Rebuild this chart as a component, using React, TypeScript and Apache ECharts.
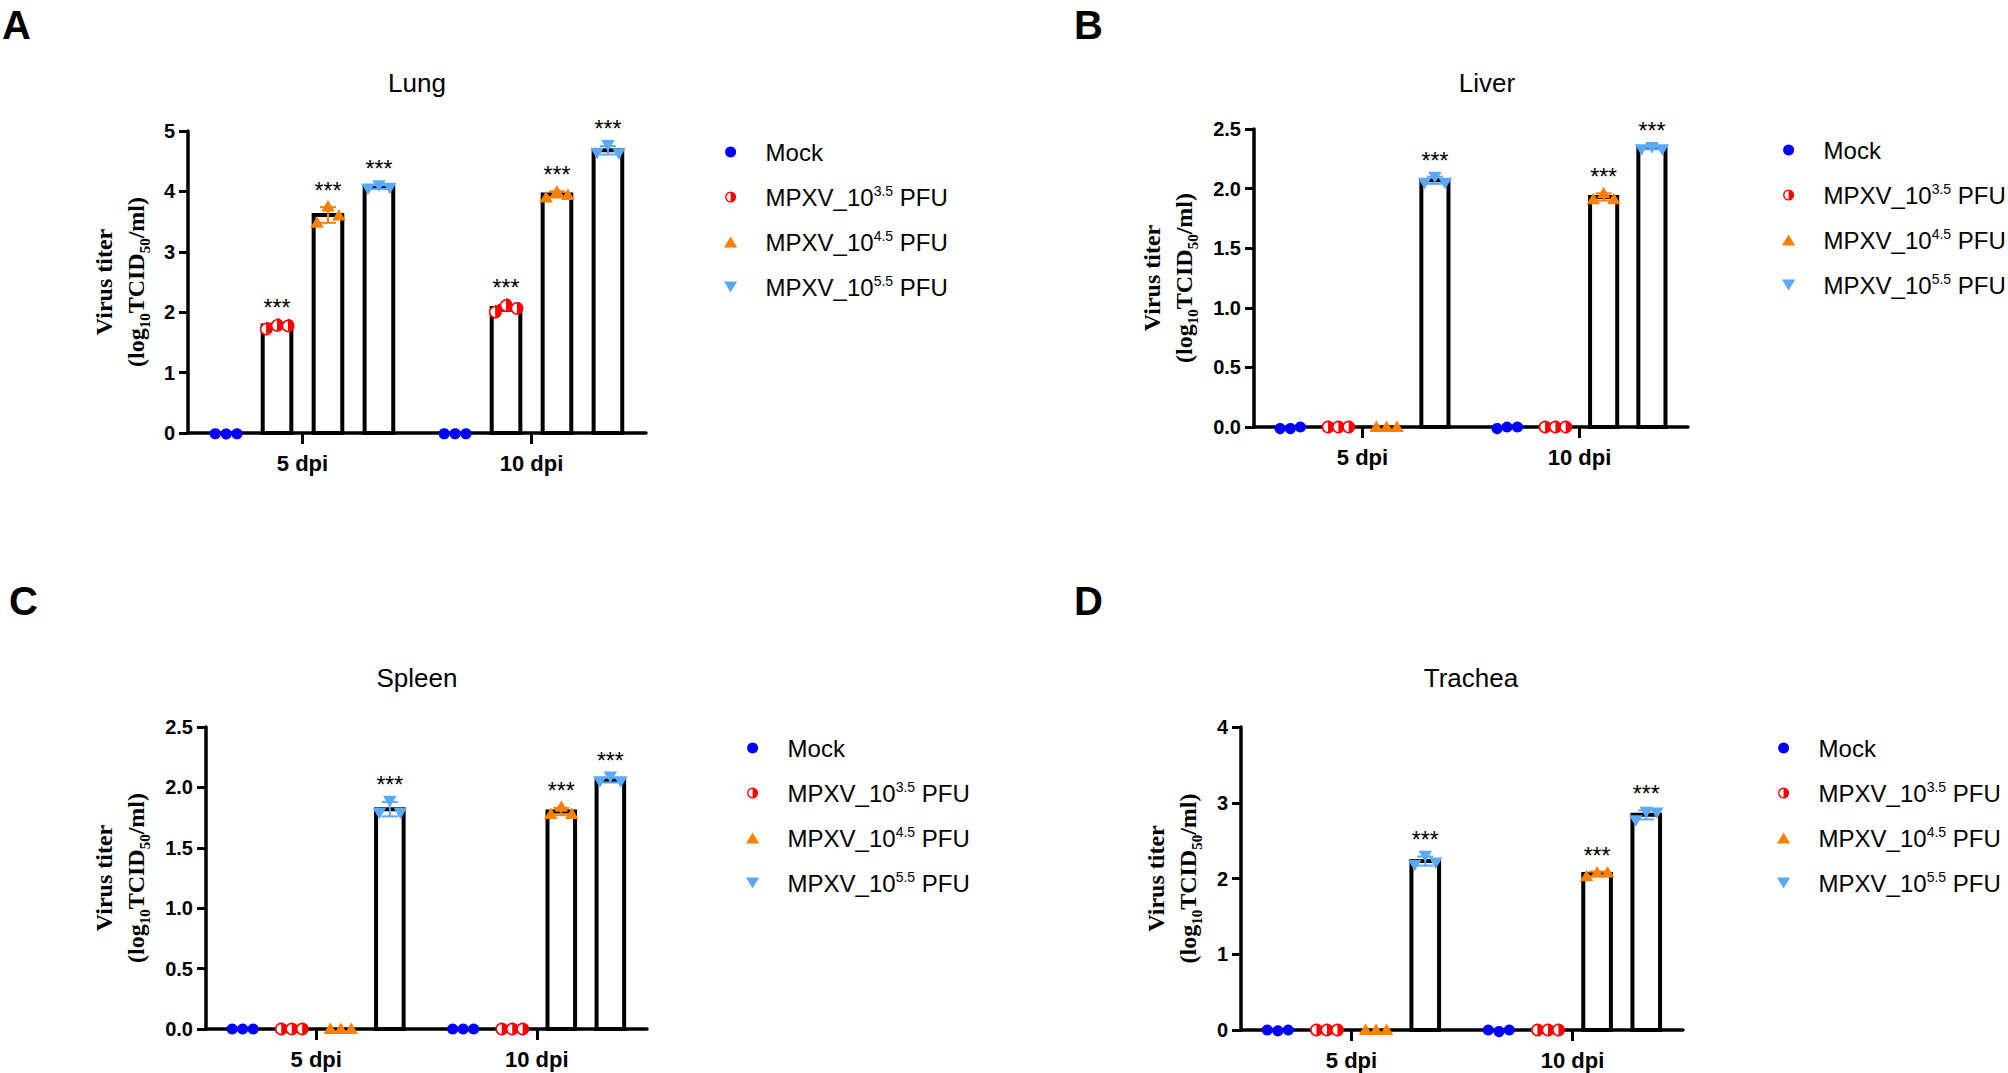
import React, { useEffect, useRef } from 'react';
import * as echarts from 'echarts';

// ---------------- data ----------------
const categories = ['5 dpi', '10 dpi'];
const groupNames = ['Mock', 'MPXV_10^3.5 PFU', 'MPXV_10^4.5 PFU', 'MPXV_10^5.5 PFU'];
const groupLabels = ['Mock', 'MPXV_10{sup|3.5} PFU', 'MPXV_10{sup|4.5} PFU', 'MPXV_10{sup|5.5} PFU'];
const groupColors = ['#0000ff', '#ff0000', '#ff7f00', '#5aa9f7'];

const panelLetters = ['A', 'B', 'C', 'D'];
const panelTitles = ['Lung', 'Liver', 'Spleen', 'Trachea'];
const yMax = [5, 2.5, 2.5, 4];
const yInterval = [1, 0.5, 0.5, 1];
const yDecimals = [0, 1, 1, 0];

// replicate values: [group][category][replicate]
const lungPoints = [
  [[0, 0, 0], [0, 0, 0]],
  [[1.74, 1.8, 1.79], [2.02, 2.13, 2.07]],
  [[3.48, 3.75, 3.6], [3.9, 4.0, 3.94]],
  [[4.05, 4.1, 4.06], [4.64, 4.77, 4.63]],
];
const lungMeans = [[0, 0], [1.78, 2.07], [3.61, 3.95], [4.07, 4.68]];
const lungSD = [[0, 0], [0.03, 0.05], [0.13, 0.05], [0.03, 0.07]];
const lungSig = [['', ''], ['***', '***'], ['***', '***'], ['***', '***']];

const liverPoints = [
  [[0, 0, 0], [0, 0, 0]],
  [[0, 0, 0], [0, 0, 0]],
  [[0, 0, 0], [1.91, 1.96, 1.91]],
  [[2.05, 2.1, 2.05], [2.33, 2.35, 2.33]],
];
const liverMeans = [[0, 0], [0, 0], [0, 1.93], [2.07, 2.34]];
const liverSD = [[0, 0], [0, 0], [0, 0.03], [0.03, 0.01]];
const liverSig = [['', ''], ['', ''], ['', '***'], ['***', '***']];

const spleenPoints = [
  [[0, 0, 0], [0, 0, 0]],
  [[0, 0, 0], [0, 0, 0]],
  [[0, 0, 0], [1.78, 1.84, 1.78]],
  [[1.79, 1.89, 1.79], [2.05, 2.09, 2.05]],
];
const spleenMeans = [[0, 0], [0, 0], [0, 1.8], [1.82, 2.06]];
const spleenSD = [[0, 0], [0, 0], [0, 0.03], [0.06, 0.02]];
const spleenSig = [['', ''], ['', ''], ['', '***'], ['***', '***']];

const tracheaPoints = [
  [[0, 0, 0], [0, 0, 0]],
  [[0, 0, 0], [0, 0, 0]],
  [[0, 0, 0], [2.03, 2.08, 2.08]],
  [[2.18, 2.3, 2.21], [2.77, 2.88, 2.87]],
];
const tracheaMeans = [[0, 0], [0, 0], [0, 2.06], [2.23, 2.84]];
const tracheaSD = [[0, 0], [0, 0], [0, 0.03], [0.06, 0.06]];
const tracheaSig = [['', ''], ['', ''], ['', '***'], ['***', '***']];

const panelPoints = [lungPoints, liverPoints, spleenPoints, tracheaPoints];
const panelMeans = [lungMeans, liverMeans, spleenMeans, tracheaMeans];
const panelSD = [lungSD, liverSD, spleenSD, tracheaSD];
const panelSig = [lungSig, liverSig, spleenSig, tracheaSig];

// ---------------- layout / style ----------------
const SANS = 'Arial, "Liberation Sans", Helvetica, sans-serif';
const SERIF = '"Times New Roman", "Liberation Serif", serif';
const grids = [
  { left: 188, top: 131, width: 458, height: 302 },
  { left: 1254, top: 129, width: 434, height: 298 },
  { left: 206, top: 727, width: 441, height: 302 },
  { left: 1241, top: 727, width: 442, height: 303 },
];
const nameGaps = [36, 54, 54, 37];
const legendPos = [
  { left: 724, top: 139 },
  { left: 1782, top: 137 },
  { left: 746, top: 735 },
  { left: 1777, top: 735 },
];
const letterPos = [[2, 25], [1074, 25], [9, 601], [1074, 601]];
const titlePos = [[417, 83], [1487, 83], [417, 678], [1471, 678]];
const SLOT = 0.2225;
const BARW = 0.125;
const PT = 0.0475;

const legendIcons = [
  'circle',
  'path://M0,-10A10,10,0,1,1,0,10A10,10,0,1,1,0,-10ZM0,-7.5A7.5,7.5,0,0,0,0,7.5Z',
  'path://M6,0L12,10L0,10Z',
  'path://M0,0L12,0L6,10Z',
];

function line(x1: number, y1: number, x2: number, y2: number, color: string) {
  return { type: 'line', shape: { x1, y1, x2, y2 }, style: { stroke: color, lineWidth: 2 } };
}

function marker(g: number, x: number, y: number) {
  const color = groupColors[g];
  if (g === 0) return { type: 'circle', shape: { cx: x, cy: y, r: 5.6 }, style: { fill: color } };
  if (g === 1)
    return {
      type: 'group',
      children: [
        { type: 'circle', shape: { cx: x, cy: y, r: 5.6 }, style: { fill: '#fff', stroke: color, lineWidth: 1.6 } },
        {
          type: 'sector',
          shape: { cx: x, cy: y, r0: 0, r: 6.2, startAngle: -Math.PI / 2, endAngle: Math.PI / 2, clockwise: true },
          style: { fill: color },
        },
      ],
    };
  if (g === 2)
    return { type: 'polygon', shape: { points: [[x, y - 6.5], [x + 6.8, y + 5], [x - 6.8, y + 5]] }, style: { fill: color } };
  return { type: 'polygon', shape: { points: [[x - 6.8, y - 5], [x + 6.8, y - 5], [x, y + 6.5]] }, style: { fill: color } };
}

function makeRender(p: number, g: number) {
  const pts = panelPoints[p][g];
  const sds = panelSD[p][g];
  const sig = panelSig[p][g];
  const color = groupColors[g];
  return (params: any, api: any) => {
    const c = api.value(0) as number;
    const mean = api.value(1) as number;
    const band = api.size([1, 0])[0];
    const base = api.coord([c, 0]);
    const cx = base[0] + (g - 1.5) * SLOT * band;
    const children: any[] = [];
    let topY = base[1];
    if (mean > 0) {
      const yTop = api.coord([c, mean])[1];
      const bw = BARW * band;
      children.push({
        type: 'rect',
        shape: { x: cx - bw / 2, y: yTop, width: bw, height: base[1] - yTop },
        style: { fill: '#fff', stroke: '#000', lineWidth: 4 },
      });
      const s = sds[c];
      const yHi = api.coord([c, mean + s])[1];
      const yLo = api.coord([c, mean - s])[1];
      children.push(line(cx, yHi, cx, yLo, color), line(cx - 8, yHi, cx + 8, yHi, color), line(cx - 8, yLo, cx + 8, yLo, color));
      topY = Math.min(topY, yHi);
    }
    pts[c].forEach((v: number, k: number) => {
      const y = api.coord([c, v])[1];
      const x = cx + (k - 1) * PT * band;
      children.push(marker(g, x, y));
      topY = Math.min(topY, y);
    });
    if (sig[c]) {
      children.push({
        type: 'text',
        x: cx,
        y: topY - 16,
        style: {
          text: sig[c],
          fontSize: 23,
          fontFamily: SANS,
          fill: '#000',
          align: 'center',
          verticalAlign: 'middle',
          textAlign: 'center',
          textVerticalAlign: 'middle',
        },
      });
    }
    return { type: 'group', children };
  };
}

function buildOption() {
  const grid = grids.map((g) => ({ ...g, containLabel: false }));
  const xAxis = grids.map((_, p) => ({
    type: 'category',
    gridIndex: p,
    data: categories,
    axisLine: { show: true, lineStyle: { color: '#000', width: 3.5 } },
    axisTick: { show: true, alignWithLabel: true, length: 11, lineStyle: { color: '#000', width: 3 } },
    axisLabel: { fontSize: 22, fontWeight: 'bold', color: '#000', fontFamily: SANS, margin: 19 },
    splitLine: { show: false },
  }));
  const yAxis = grids.map((_, p) => ({
    type: 'value',
    gridIndex: p,
    min: 0,
    max: yMax[p],
    interval: yInterval[p],
    axisLine: { show: true, lineStyle: { color: '#000', width: 3.5 } },
    axisTick: { show: true, length: 9, lineStyle: { color: '#000', width: 3 } },
    axisLabel: {
      fontSize: 20,
      fontWeight: 'bold',
      color: '#000',
      fontFamily: SANS,
      margin: 13,
      formatter: (v: number) => v.toFixed(yDecimals[p]),
    },
    splitLine: { show: false },
    name: '{t|Virus titer}\n{t|(log}{s|10}{t|TCID}{s|50}{t|/ml)}',
    nameLocation: 'middle',
    nameRotate: 90,
    nameGap: nameGaps[p],
    nameTextStyle: {
      rich: {
        t: { fontFamily: SERIF, fontWeight: 'bold', fontSize: 24, lineHeight: 32, color: '#000' },
        s: { fontFamily: SERIF, fontWeight: 'bold', fontSize: 15, lineHeight: 16, verticalAlign: 'bottom', color: '#000' },
      },
    },
  }));
  const series: any[] = [];
  for (let p = 0; p < 4; p++) {
    for (let g = 0; g < 4; g++) {
      series.push({
        type: 'custom',
        name: groupNames[g],
        xAxisIndex: p,
        yAxisIndex: p,
        clip: false,
        itemStyle: { color: groupColors[g] },
        encode: { x: 0, y: 1 },
        data: categories.map((_, c) => [c, panelMeans[p][g][c]]),
        renderItem: makeRender(p, g),
      });
    }
  }
  const legend = legendPos.map((pos) => ({
    ...pos,
    orient: 'vertical',
    padding: 0,
    itemWidth: 60,
    itemHeight: 11,
    itemGap: 19,
    selectedMode: false,
    symbolKeepAspect: true,
    data: groupNames.map((n, i) => ({ name: n, icon: legendIcons[i] })),
    formatter: (name: string) => groupLabels[groupNames.indexOf(name)],
    textStyle: {
      fontSize: 24,
      fontFamily: SANS,
      color: '#000',
      lineHeight: 26,
      rich: {
        sup: { fontSize: 14, fontFamily: SANS, color: '#000', lineHeight: 14, verticalAlign: 'top' },
      },
    },
  }));
  const graphic: any[] = [];
  panelLetters.forEach((L, p) => {
    graphic.push({
      type: 'text',
      x: letterPos[p][0],
      y: letterPos[p][1],
      style: {
        text: L,
        fontSize: 40,
        fontWeight: 'bold',
        fontFamily: SANS,
        fill: '#000',
        align: 'left',
        verticalAlign: 'middle',
        textAlign: 'left',
        textVerticalAlign: 'middle',
      },
    });
    graphic.push({
      type: 'text',
      x: titlePos[p][0],
      y: titlePos[p][1],
      style: {
        text: panelTitles[p],
        fontSize: 26,
        fontFamily: SANS,
        fill: '#000',
        align: 'center',
        verticalAlign: 'middle',
        textAlign: 'center',
        textVerticalAlign: 'middle',
      },
    });
  });
  return {
    animation: false,
    backgroundColor: '#ffffff',
    grid,
    xAxis,
    yAxis,
    legend,
    graphic,
    series,
  };
}

export default function App() {
  const ref = useRef<HTMLDivElement>(null);
  useEffect(() => {
    const chart = echarts.init(ref.current as HTMLDivElement, null, { renderer: 'svg' });
    chart.setOption(buildOption() as any);
    return () => chart.dispose();
  }, []);
  return (
    <div
      ref={ref}
      style={{ position: 'absolute', left: 0, top: 0, width: 2008, height: 1073, background: '#fff' }}
    />
  );
}
